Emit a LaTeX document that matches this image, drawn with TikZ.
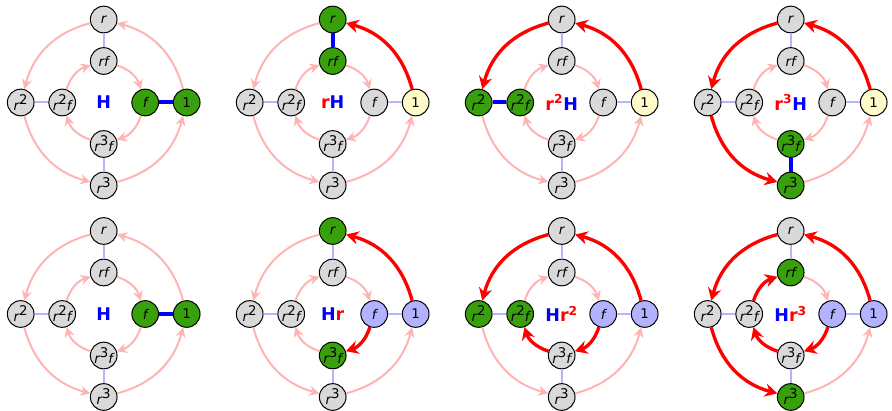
\documentclass[tikz,border=0pt]{standalone}
\usepackage{fontspec}
\setmainfont{DejaVu Sans}
\usetikzlibrary{arrows.meta}
\definecolor{cosetgreen}{RGB}{56,160,12}
\definecolor{cosetgray}{RGB}{217,217,217}
\definecolor{cosetyellow}{RGB}{255,250,200}
\definecolor{cosetblue}{RGB}{178,178,255}
\definecolor{rotpink}{RGB}{255,180,180}
\definecolor{flipline}{RGB}{180,180,255}
\tikzset{
  elt/.style={circle,draw=black,line width=0.6pt,fill=cosetgray,minimum size=16pt,inner sep=0pt,font=\fontsize{8}{9}\selectfont\itshape},
  ingroup/.style={fill=cosetgreen},
  start/.style={fill=cosetyellow},
  inH/.style={fill=cosetblue},
  rot/.style={draw=rotpink,line width=1.2pt,-{Stealth[length=6pt,width=6pt,inset=2pt]}},
  hot/.style={draw=red,line width=2pt,-{Stealth[length=7.5pt,width=8pt,inset=2.5pt]}},
  flip/.style={draw=flipline,line width=1.2pt},
  pair/.style={draw=blue,line width=2.4pt},
  coset/.style={font=\fontsize{10.5}{12}\selectfont\bfseries},
  n-one/.style={},n-r/.style={},n-rr/.style={},n-rrr/.style={},
  n-f/.style={},n-rf/.style={},n-rrf/.style={},n-rrrf/.style={},
  a-one/.style={},a-r/.style={},a-rr/.style={},a-rrr/.style={},
  a-f/.style={},a-rf/.style={},a-rrf/.style={},a-rrrf/.style={},
  l-one/.style={},l-r/.style={},l-rr/.style={},l-rrr/.style={}
}
\newcommand\sq[1]{\raisebox{0.45em}{\upshape#1}}
\newcommand\cosetpanel[4]{%
  \begin{scope}[shift={#2},#4]
    \node[elt,n-one] (#1-one) at (83,0) {\upshape 1};
    \node[elt,n-r] (#1-r) at (0,83) {r};
    \node[elt,n-rr] (#1-rr) at (-83,0) {r\sq{2}};
    \node[elt,n-rrr] (#1-rrr) at (0,-83) {r\sq{3}};
    \node[elt,n-f] (#1-f) at (41.5,0) {f};
    \node[elt,n-rf] (#1-rf) at (0,41.5) {rf};
    \node[elt,n-rrf] (#1-rrf) at (-41.5,0) {r\sq{2}f};
    \node[elt,n-rrrf] (#1-rrrf) at (0,-41.5) {r\sq{3}f};
    \node[coset] (#1-lab) at (0,0) {#3};
    \draw[flip,l-one] (#1-f) -- (#1-one);
    \draw[flip,l-r] (#1-r) -- (#1-rf);
    \draw[flip,l-rr] (#1-rr) -- (#1-rrf);
    \draw[flip,l-rrr] (#1-rrr) -- (#1-rrrf);
    \draw[rot,a-one] (#1-one) to[bend right=30] (#1-r);
    \draw[rot,a-r] (#1-r) to[bend right=30] (#1-rr);
    \draw[rot,a-rr] (#1-rr) to[bend right=30] (#1-rrr);
    \draw[rot,a-rrr] (#1-rrr) to[bend right=30] (#1-one);
    \draw[rot,a-rf] (#1-rf) to[bend left=27] (#1-f);
    \draw[rot,a-f] (#1-f) to[bend left=27] (#1-rrrf);
    \draw[rot,a-rrrf] (#1-rrrf) to[bend left=27] (#1-rrf);
    \draw[rot,a-rrf] (#1-rrf) to[bend left=27] (#1-rf);
  \end{scope}}

\begin{document}
\begin{tikzpicture}[x=0.6pt,y=0.6pt]
  \useasboundingbox (0,0) rectangle (892,411);
  \cosetpanel{p1}{(103.7,308.5)}{\textcolor{blue}{H}}
    {n-one/.style=ingroup,n-f/.style=ingroup,l-one/.style=pair}
  \cosetpanel{p2}{(332.7,308.5)}{\textcolor{red}{r}\textcolor{blue}{H}}
    {n-one/.style=start,n-r/.style=ingroup,n-rf/.style=ingroup,l-r/.style=pair,a-one/.style=hot}
  \cosetpanel{p3}{(561.7,308.5)}{\textcolor{red}{r\textsuperscript{2}}\textcolor{blue}{H}}
    {n-one/.style=start,n-rr/.style=ingroup,n-rrf/.style=ingroup,l-rr/.style=pair,
     a-one/.style=hot,a-r/.style=hot}
  \cosetpanel{p4}{(790.7,308.5)}{\textcolor{red}{r\textsuperscript{3}}\textcolor{blue}{H}}
    {n-one/.style=start,n-rrr/.style=ingroup,n-rrrf/.style=ingroup,l-rrr/.style=pair,
     a-one/.style=hot,a-r/.style=hot,a-rr/.style=hot}
  \cosetpanel{p5}{(103.7,97)}{\textcolor{blue}{H}}
    {n-one/.style=ingroup,n-f/.style=ingroup,l-one/.style=pair}
  \cosetpanel{p6}{(332.7,97)}{\textcolor{blue}{H}\textcolor{red}{r}}
    {n-one/.style=inH,n-f/.style=inH,n-r/.style=ingroup,n-rrrf/.style=ingroup,
     a-one/.style=hot,a-f/.style=hot}
  \cosetpanel{p7}{(561.7,97)}{\textcolor{blue}{H}\textcolor{red}{r\textsuperscript{2}}}
    {n-one/.style=inH,n-f/.style=inH,n-rr/.style=ingroup,n-rrf/.style=ingroup,
     a-one/.style=hot,a-r/.style=hot,a-f/.style=hot,a-rrrf/.style=hot}
  \cosetpanel{p8}{(790.7,97)}{\textcolor{blue}{H}\textcolor{red}{r\textsuperscript{3}}}
    {n-one/.style=inH,n-f/.style=inH,n-rrr/.style=ingroup,n-rf/.style=ingroup,
     a-one/.style=hot,a-r/.style=hot,a-rr/.style=hot,a-f/.style=hot,a-rrrf/.style=hot,a-rrf/.style=hot}
\end{tikzpicture}
\end{document}
